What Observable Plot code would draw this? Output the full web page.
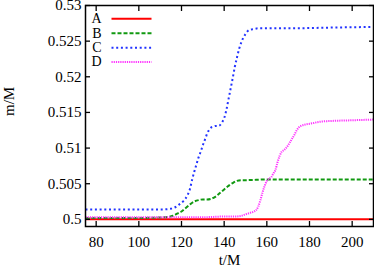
<!DOCTYPE html>
<html>
<head>
<meta charset="utf-8">
<script src="https://cdn.jsdelivr.net/npm/d3@7"></script>
<script src="https://cdn.jsdelivr.net/npm/@observablehq/plot@0.6"></script>
<style>
  html, body { margin: 0; padding: 0; background: #fff; }
  #chart { width: 374px; height: 272px; }
</style>
</head>
<body>
<div id="chart"></div>
<script>
// ---- data ----
const seriesNames = ["A", "B", "C", "D"];

const tA = [75, 100, 150, 210];
const vA = [0.5, 0.5, 0.5, 0.5];

const tB = [75, 100, 112, 116, 118, 120, 122, 124, 126, 128, 130, 132, 134, 136, 138, 140, 142, 144, 146, 148, 150, 160, 180, 210];
const vB = [0.5002, 0.5002, 0.5003, 0.5005, 0.5008, 0.5011, 0.5016, 0.5021, 0.5025, 0.5027, 0.5028, 0.5028, 0.5029, 0.5032, 0.5037, 0.5042, 0.5047, 0.5051, 0.5054, 0.5055, 0.5055, 0.5056, 0.5056, 0.5056];

const tC = [75, 100, 112, 115, 117, 119, 121, 123, 124, 125, 126, 127, 128, 129, 130, 131, 132, 133, 134, 135, 136, 137, 138, 139, 140, 141, 142, 143, 144, 145, 146, 147, 148, 149, 150, 151, 152, 154, 156, 170, 190, 210];
const vC = [0.5014, 0.5014, 0.5014, 0.5015, 0.5017, 0.5021, 0.5026, 0.5035, 0.5043, 0.5056, 0.5067, 0.5077, 0.5087, 0.5095, 0.5104, 0.5112, 0.5120, 0.5126, 0.5129, 0.5130, 0.5131, 0.5131, 0.5132, 0.5136, 0.5142, 0.5153, 0.5168, 0.5183, 0.5198, 0.5214, 0.5227, 0.5239, 0.5248, 0.5255, 0.5260, 0.5264, 0.5266, 0.5267, 0.5268, 0.5268, 0.5269, 0.5270];

const tD = [75, 100, 120, 130, 140, 145, 148, 150, 152, 154, 155, 156, 157, 158, 159, 160, 161, 162, 163, 164, 165, 166, 167, 168, 169, 170, 171, 172, 173, 174, 175, 176, 178, 180, 185, 190, 200, 210];
const vD = [0.5003, 0.5003, 0.5003, 0.5003, 0.5004, 0.5004, 0.5005, 0.5007, 0.5009, 0.5011, 0.5013, 0.5018, 0.5027, 0.5038, 0.5047, 0.5054, 0.5057, 0.5059, 0.5064, 0.5069, 0.5080, 0.5089, 0.5095, 0.5097, 0.5100, 0.5104, 0.5109, 0.5114, 0.5119, 0.5125, 0.5129, 0.5131, 0.5133, 0.5134, 0.5137, 0.5138, 0.5139, 0.5140];

const xTicks = [80, 100, 120, 140, 160, 180, 200];
const yTicks = [0.5, 0.505, 0.51, 0.515, 0.52, 0.525, 0.53];
const yTickLabels = ["0.5", "0.505", "0.51", "0.515", "0.52", "0.525", "0.53"];

// ---- styles / layout ----
const W = 374, H = 272;
const mL = 85, mR = 1, mT = 5, mB = 46;
const xDomain = [75, 210];
const yDomain = [0.499, 0.53];
const styles = [
  {stroke: "#ff0000", dash: null},
  {stroke: "#119911", dash: "4,2"},
  {stroke: "#2233ff", dash: "2,2.7"},
  {stroke: "#ff33ff", dash: "1.2,1"}
];
const FONT = "'Liberation Serif', 'DejaVu Serif', serif";
const FS = 15;

const rows = [
  ...tA.map((t, i) => ({t, v: vA[i], s: "A"})),
  ...tB.map((t, i) => ({t, v: vB[i], s: "B"})),
  ...tC.map((t, i) => ({t, v: vC[i], s: "C"})),
  ...tD.map((t, i) => ({t, v: vD[i], s: "D"}))
];

// legend layout (pixel -> data helpers)
const px2x = px => xDomain[0] + (px - mL) / (W - mL - mR) * (xDomain[1] - xDomain[0]);
const py2y = py => yDomain[1] - (py - mT) / (H - mT - mB) * (yDomain[1] - yDomain[0]);
const legendRowY = [18.3, 32.7, 47.3, 61.5];
const legend = seriesNames.map((s, i) => ({
  s, i,
  x1: px2x(111), x2: px2x(151),
  y: py2y(legendRowY[i])
}));

const lineMarks = seriesNames.map((s, i) =>
  Plot.line(rows.filter(d => d.s === s), {
    x: "t", y: "v",
    stroke: styles[i].stroke, strokeWidth: 2,
    strokeDasharray: styles[i].dash, strokeLinecap: "butt",
    curve: "monotone-x"
  })
);
const legendLines = legend.map(d =>
  Plot.link([d], {
    x1: "x1", x2: "x2", y1: "y", y2: "y",
    stroke: styles[d.i].stroke, strokeWidth: 2,
    strokeDasharray: styles[d.i].dash, strokeLinecap: "butt"
  })
);

const chart = Plot.plot({
  width: W, height: H,
  marginLeft: mL, marginRight: mR, marginTop: mT, marginBottom: mB,
  style: {fontFamily: FONT, fontSize: FS + "px", background: "#fff", color: "#000"},
  x: {domain: xDomain},
  y: {domain: yDomain},
  marks: [
    ...lineMarks,
    // tick labels
    Plot.axisX(xTicks, {anchor: "bottom", tickSize: 0, tickPadding: 10, label: null, fontSize: FS}),
    Plot.axisY(yTicks, {anchor: "left", tickSize: 0, tickPadding: 4, label: null, fontSize: FS,
      tickFormat: d => yTickLabels[yTicks.indexOf(d)]}),
    // inward ticks on all four sides
    Plot.axisX(xTicks, {anchor: "bottom", tickSize: -5, text: null, label: null, strokeWidth: 1.3}),
    Plot.axisX(xTicks, {anchor: "top", tickSize: -5, text: null, label: null, strokeWidth: 1.3}),
    Plot.axisY(yTicks, {anchor: "left", tickSize: -5, text: null, label: null, strokeWidth: 1.3}),
    Plot.axisY(yTicks, {anchor: "right", tickSize: -5, text: null, label: null, strokeWidth: 1.3}),
    Plot.frame({stroke: "#000", strokeWidth: 1.5}),
    // axis titles
    Plot.text(["t/M"], {frameAnchor: "bottom", dy: 38, fontSize: FS, text: d => d}),
    Plot.text(["m/M"], {frameAnchor: "left", dx: -76, rotate: -90, fontSize: FS, text: d => d}),
    // legend
    Plot.text(legend, {x: d => px2x(101), y: "y", text: "s", textAnchor: "end", fontSize: 14}),
    ...legendLines
  ]
});
document.getElementById("chart").appendChild(chart);
</script>
</body>
</html>
